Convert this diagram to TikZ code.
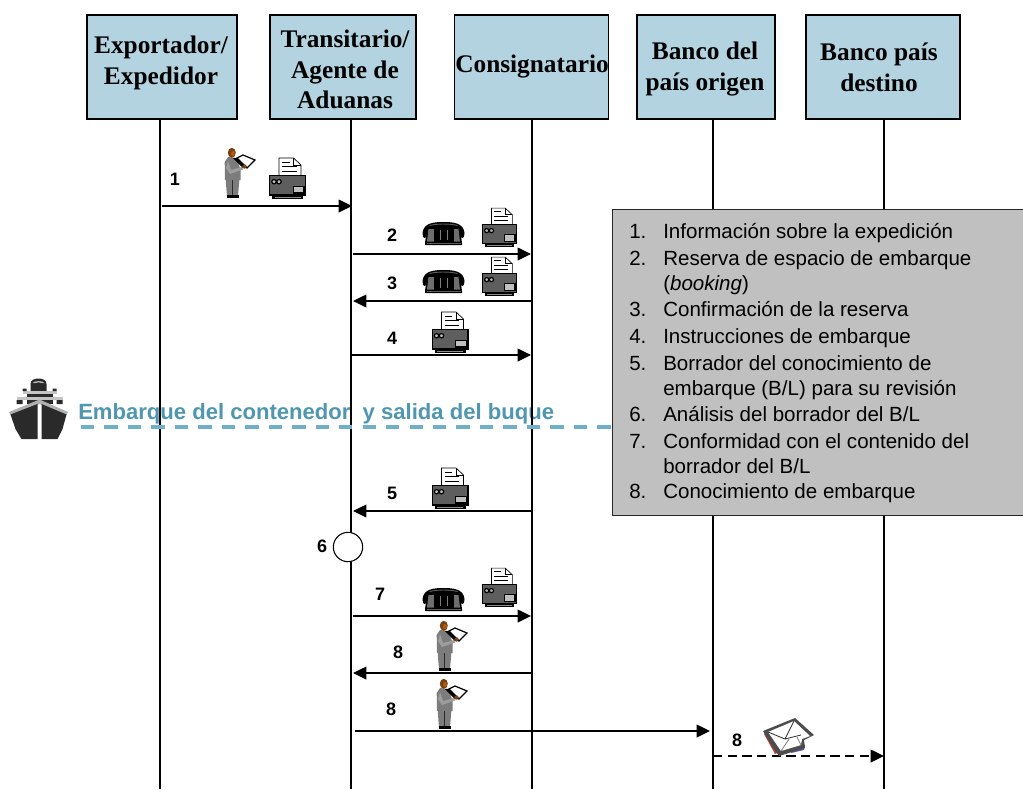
\documentclass[tikz,border=0pt]{standalone}
\usepackage{fontspec}
\setmainfont{Liberation Serif}
\newfontfamily\arialf{Liberation Sans}
\usetikzlibrary{arrows.meta}
\definecolor{boxblue}{HTML}{B2D3DF}
\definecolor{teal1}{HTML}{4F97B1}
\definecolor{teal2}{HTML}{6FAFC8}
\definecolor{panel}{HTML}{C0C0C0}
\definecolor{dk}{HTML}{2A2A2A}
\definecolor{md}{HTML}{5E5E5E}
\definecolor{suit}{HTML}{7C7C7C}
\definecolor{skin}{HTML}{7A4212}
\tikzset{
 hdr/.style={draw=black,line width=0.9pt,fill=boxblue,inner sep=0pt},
 hdrtxt/.style={inner sep=0pt,align=center,font=\bfseries\fontsize{19}{23}\selectfont},
 life/.style={line width=1.1pt,black},
 msg/.style={line width=1.1pt,black,-{Triangle[length=10pt,width=9.5pt]}},
 num/.style={font=\arialf\bfseries\fontsize{13.5}{15}\selectfont,inner sep=0pt},
 it/.style={font=\arialf\fontsize{15.4}{17}\selectfont,inner sep=0pt,anchor=base west},
 fax/.pic={
  \fill[white,draw=black,line width=.5pt] (-8.5,-22) -- (6,-22) -- (13.5,-15) -- (13.5,-4) -- (-8.5,-4) -- cycle;
  \draw[line width=.7pt] (-5.5,-18)--(2,-18) (-5.5,-13.5)--(9,-13.5) (-5.5,-9)--(9,-9);
  \draw[line width=.5pt] (6,-22)--(6,-15)--(13.5,-15);
  \fill[black] (-15.5,15) rectangle (15.5,19);
  \fill[md!70] (-13,17) rectangle (13,17.8);
  \fill[black] (-18.5,-5) rectangle (18.5,15.5);
  \fill[md] (-17.3,-3.7) rectangle (17.3,14.3);
  \fill[black] (5,5.5) rectangle (17,13.5);
  \fill[panel] (6.3,6.8) rectangle (15.7,12.2);
  \draw[black,line width=.9pt,fill=panel] (-13.5,1.7) circle (2.2) (-8.5,1.7) circle (2.2);
 },
 phone/.pic={
  \fill[black] (-21,-3) .. controls (-20,-13) and (-10,-14) .. (0,-14) .. controls (10,-14) and (20,-13) .. (21,-3) .. controls (21,3) and (18,3) .. (17.5,0) -- (18.5,7) -- (18.5,9) -- (-18.5,9) -- (-18.5,7) -- (-17.5,0) .. controls (-18,3) and (-21,3) .. (-21,-3) -- cycle;
  \fill[md!90] (-15,-7) -- (15,-7) -- (16.5,5.5) -- (-16.5,5.5) -- cycle;
  \fill[black] (-10,-8) rectangle (10,5.5);
  \fill[md] (-17,7) rectangle (17,8);
  \draw[md,line width=.7pt] (-14,-10.5) .. controls (-6,-12.5) and (6,-12.5) .. (14,-10.5);
  \draw[suit,line width=.3pt] (-3.5,-6)--(-3.5,4) (3.5,-6)--(3.5,4);
 },
 person/.pic={
  % clipboard
  \fill[white,draw=black,line width=.9pt] (12,10) -- (18,7) -- (30,12) -- (22,20) -- cycle;
  % legs
  \fill[suit] (0.5,24) -- (15,24) -- (14,36) -- (13,48) -- (2,48) -- (1,36) -- cycle;
  \draw[dk,line width=.5pt] (7.5,32) -- (7.5,48);
  % torso
  \fill[suit] (3,9) -- (12,10) -- (15.5,22) -- (15.5,32) -- (0,32) -- (-0.3,14) -- cycle;
  \fill[black] (8,10) -- (12,10) -- (19,17) -- (18,20) -- cycle;
  \fill[suit!75] (3,13) -- (6,22) -- (17,19) -- (18,21.5) -- (5,26) -- (1,20) -- cycle;
  \fill[skin] (19.5,18.5) circle (2.2);
  % head
  \fill[skin] (6.8,4.8) ellipse (4 and 5);
  \fill[skin!60!orange] (8,5.5) ellipse (2 and 2.6);
  % feet
  \fill[black] (2,47) rectangle (9,50);
  \fill[black] (9,47) rectangle (14,49.5);
 },
 ship/.pic={
  % top
  \fill[dk] (30,0.5) .. controls (34,0.5) and (38,2) .. (38,6) -- (38,13) -- (22,13) -- (22,6) .. controls (22,2) and (26,0.5) .. (30,0.5) -- cycle;
  \fill[suit!50] (24,5) .. controls (26,2.5) and (34,2.5) .. (36,5) -- (33,5) .. controls (31,4) and (29,4) .. (27,5) -- cycle;
  \fill[suit!45] (14,13) rectangle (48,16);
  \fill[dk] (14,10.5) rectangle (18,13) (44,10.5) rectangle (48,13);
  \fill[dk] (18,16) rectangle (44,20);
  \fill[suit!45] (8,19) rectangle (54,22);
  \fill[dk] (8,22) rectangle (14,26) (48,22) rectangle (54,26);
  \fill[dk] (18,22) rectangle (44,26);
  % hull
  \fill[suit!60] (0.5,34) -- (31,21.5) -- (59.5,34) -- (58,37) -- (31,26) -- (2,37) -- cycle;
  \fill[dk] (2,36.5) -- (29,26) -- (29,61) -- (13,61) -- (7,51) -- cycle;
  \fill[dk] (58,36.5) -- (33,26) -- (33,61) -- (49,61) -- (54,51) -- cycle;
 },
 envl/.pic={
  \fill[red!50!gray] (1,16) -- (5,14) -- (16,34) -- (12,36) -- cycle;
  \fill[blue!30!gray] (30,30) -- (42,27) -- (41,32) -- (28,35) -- cycle;
  \fill[gray!60!black] (0,13) -- (32,0) -- (51,17) -- (41,22) -- (42,30) -- (16,38) -- (10,30) -- cycle;
  \fill[white] (5,14) -- (31,3) -- (47,18) -- (39,21) -- (38,27) -- (18,33) -- cycle;
  \draw[dk,line width=.6pt] (5,14) -- (22,21) -- (31,3) (22,21) -- (38,17);
  \draw[gray,line width=.6pt] (18,33) -- (26,21) (38,27) -- (34,19);
 },
}
\begin{document}
\begin{tikzpicture}[x=0.75pt,y=-0.75pt]
\useasboundingbox (0,0) rectangle (1023,789);
\fill[white] (0,0) rectangle (1023,789);
% actors
\node[hdr,minimum width=112.5pt,minimum height=78pt] (exp) at (162,67) {};
\node[hdr,minimum width=109.5pt,minimum height=78pt] (tra) at (343,67) {};
\node[hdr,minimum width=116pt,minimum height=78pt] (con) at (531.5,67) {};
\node[hdr,minimum width=103.5pt,minimum height=78pt] (bor) at (706,67) {};
\node[hdr,minimum width=115.5pt,minimum height=78pt] (bde) at (883,67) {};
\node[hdrtxt] (t1) at (161,63) {Exportador/\\Expedidor};
\node[hdrtxt] (t2) at (345,69.5) {Transitario/\\Agente de\\Aduanas};
\node[hdrtxt] (t3) at (532,67) {Consignatario};
\node[hdrtxt] (t4) at (705,69) {Banco del\\país origen};
\node[hdrtxt] (t5) at (879,67.5) {Banco país\\destino};
% lifeline ends
\coordinate (e1) at (160,789); \coordinate (s1) at (160,119);
\coordinate (e2) at (351,789); \coordinate (s2) at (351,119);
\coordinate (e3) at (532,789); \coordinate (s3) at (532,119);
\coordinate (e4) at (713,789); \coordinate (s4) at (713,119);
\coordinate (e5) at (884,789); \coordinate (s5) at (884,119);
% title
\node[font=\arialf\bfseries\fontsize{16.55}{18}\selectfont,text=teal1,inner sep=0pt,anchor=base west] (emb) at (78,419) {Embarque del contenedor\ \ y salida del buque};
\foreach \i in {1,...,5} \draw[life] (s\i) -- (e\i);
% ship
\pic at (8.5,378) {ship};
\coordinate (d1) at (81,427); \coordinate (d2) at (611,427);
\draw[teal2,line width=2.4pt,dash pattern=on 10pt off 7.6pt] (d1) -- (d2);
% panel
\node[draw=black!85,line width=1.1pt,fill=panel,minimum width=310pt,minimum height=229.5pt,inner sep=0pt,anchor=north west] (panel) at (611.5,209) {};
\foreach \n/\y/\t in {1./238/{Información sobre la expedición},
 2./265/{Reserva de espacio de embarque},
 3./316/{Confirmación de la reserva},
 4./343/{Instrucciones de embarque},
 5./370/{Borrador del conocimiento de},
 6./421/{Análisis del borrador del B/L},
 7./448/{Conformidad con el contenido del},
 8./498/{Conocimiento de embarque}}{
  \node[it] at (629,\y) {\n};
  \node[it] at (663,\y) {\t};
}
\node[it] at (663,290) {(\textit{booking})};
\node[it] at (663,395) {embarque (B/L) para su revisión};
\node[it] at (663,473) {borrador del B/L};
% message ends
\coordinate (m1a) at (162,206);\coordinate (m1b) at (352,206);
\coordinate (m2a) at (353,254);\coordinate (m2b) at (531,254);
\coordinate (m3a) at (532,301);\coordinate (m3b) at (353,301);
\coordinate (m4a) at (352,355);\coordinate (m4b) at (531,355);
\coordinate (m5a) at (532,511);\coordinate (m5b) at (353,511);
\coordinate (m7a) at (353,616);\coordinate (m7b) at (531,616);
\coordinate (m8a) at (532,673);\coordinate (m8b) at (353,673);
\coordinate (m9a) at (355,731);\coordinate (m9b) at (710,731);
\coordinate (m10a) at (713,756);\coordinate (m10b) at (884,756);
\foreach \a in {m1,m2,m3,m4,m5,m7,m8,m9} \draw[msg] (\a a) -- (\a b);
\draw[msg,dash pattern=on 7pt off 4pt] (m10a) -- (m10b);
% circle
\node[draw=black,line width=.8pt,fill=white,circle,minimum size=22pt,inner sep=0pt] (six) at (348,547) {};
% numbers
\node[num] (n1) at (175,179) {1};
\node[num] (n2) at (392,235) {2};
\node[num] (n3) at (392,283) {3};
\node[num] (n4) at (392,338) {4};
\node[num] (n5) at (392,493) {5};
\node[num] (n6) at (322,546) {6};
\node[num] (n7) at (380,594) {7};
\node[num] (n8) at (398,652) {8};
\node[num] (n9) at (391,709) {8};
\node[num] (n10) at (737,740) {8};
% icons
\pic at (225,148) {person};
\pic at (437,621) {person};
\pic at (437,679) {person};
\pic at (287.5,180) {fax};
\pic[scale=.95] at (499.5,229) {fax};
\pic[scale=.95] at (499.5,278) {fax};
\pic at (450,334) {fax};
\pic at (450,490) {fax};
\pic[scale=.95] at (499.5,589) {fax};
\pic at (443.5,236) {phone};
\pic at (443.5,284) {phone};
\pic at (443.5,602) {phone};
\pic at (763,718) {envl};
\end{tikzpicture}
\end{document}
